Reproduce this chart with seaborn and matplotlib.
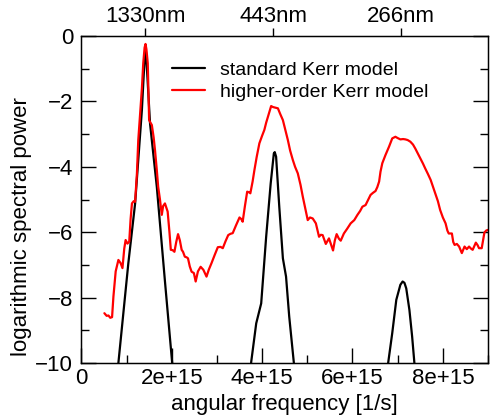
import numpy as np
import pandas as pd
import matplotlib
matplotlib.use("Agg")
import matplotlib.pyplot as plt
import seaborn as sns
from matplotlib.ticker import MultipleLocator

# angular frequency in units of 1e15 rad/s, log spectral power
omega_red = [0.51, 0.56, 0.60, 0.64, 0.68, 0.71, 0.76, 0.82, 0.87, 0.91, 0.95, 0.98,
             1.02, 1.06, 1.09, 1.12, 1.16, 1.19, 1.23, 1.26, 1.31, 1.34, 1.37, 1.40,
             1.42, 1.44, 1.47, 1.50, 1.53, 1.56, 1.60, 1.63, 1.67, 1.70, 1.74, 1.78,
             1.81, 1.85, 1.88, 1.91, 1.95, 1.98, 2.02, 2.06, 2.10, 2.14, 2.18, 2.22,
             2.25, 2.29, 2.33, 2.36, 2.40, 2.44, 2.49, 2.53, 2.58, 2.64, 2.70, 2.77,
             2.82, 2.88, 2.95, 3.02, 3.08, 3.13, 3.19, 3.25, 3.30, 3.35, 3.42, 3.50,
             3.54, 3.57, 3.62, 3.67, 3.71, 3.74, 3.79, 3.83, 3.88, 3.94, 4.00, 4.05,
             4.09, 4.13, 4.17, 4.20, 4.24, 4.27, 4.31, 4.35, 4.40, 4.46, 4.51, 4.57,
             4.62, 4.68, 4.73, 4.79, 4.85, 4.90, 4.96, 5.01, 5.06, 5.12, 5.19, 5.26,
             5.30, 5.34, 5.41, 5.48, 5.52, 5.57, 5.61, 5.65, 5.70, 5.74, 5.81, 5.88,
             5.96, 6.04, 6.11, 6.17, 6.22, 6.29, 6.35, 6.40, 6.45, 6.51, 6.55, 6.59,
             6.62, 6.66, 6.73, 6.81, 6.88, 6.95, 7.00, 7.06, 7.12, 7.17, 7.22, 7.28,
             7.34, 7.39, 7.45, 7.50, 7.56, 7.61, 7.67, 7.73, 7.78, 7.83, 7.89, 7.94,
             8.00, 8.06, 8.10, 8.13, 8.20, 8.23, 8.26, 8.31, 8.36, 8.42, 8.48, 8.53,
             8.58, 8.62, 8.66, 8.73, 8.77, 8.80, 8.86, 8.92, 8.96, 9.00]
power_red = [-8.48, -8.56, -8.55, -8.62, -8.60, -7.97, -7.20, -6.85, -6.95, -7.10, -6.50, -6.24,
             -6.35, -6.29, -5.60, -5.12, -5.05, -5.07, -4.20, -3.18, -2.21, -1.60, -0.83, -0.35,
             -0.24, -0.40, -0.83, -2.57, -2.65, -2.72, -3.10, -3.49, -4.10, -4.61, -5.00, -5.47,
             -5.20, -5.12, -5.25, -5.37, -6.00, -6.54, -6.55, -6.60, -6.30, -6.06, -6.25, -6.54,
             -6.60, -6.75, -6.77, -6.80, -7.05, -7.21, -7.25, -7.51, -7.20, -7.06, -7.15, -7.36,
             -7.15, -6.95, -6.70, -6.46, -6.45, -6.49, -6.28, -6.09, -6.05, -6.03, -5.80, -5.55,
             -5.60, -5.68, -5.20, -4.76, -4.78, -4.81, -4.45, -4.10, -3.70, -3.28, -3.05, -2.87,
             -2.65, -2.47, -2.28, -2.14, -2.17, -2.18, -2.19, -2.21, -2.38, -2.57, -2.85, -3.18,
             -3.50, -3.79, -4.00, -4.20, -4.55, -4.91, -5.30, -5.63, -5.55, -5.58, -5.73, -6.14,
             -6.08, -6.09, -6.36, -6.19, -6.35, -6.56, -6.25, -6.06, -6.20, -6.26, -6.04, -5.90,
             -5.73, -5.63, -5.47, -5.35, -5.22, -5.17, -5.00, -4.86, -4.80, -4.74, -4.62, -4.45,
             -4.15, -3.89, -3.64, -3.38, -3.13, -3.08, -3.12, -3.16, -3.15, -3.16, -3.18, -3.23,
             -3.32, -3.44, -3.60, -3.74, -3.90, -4.05, -4.22, -4.40, -4.60, -4.81, -5.05, -5.32,
             -5.55, -5.73, -5.95, -6.04, -6.04, -6.30, -6.39, -6.36, -6.44, -6.64, -6.44, -6.52,
             -6.44, -6.50, -6.54, -6.32, -6.40, -6.49, -6.49, -6.01, -5.95, -5.93]

omega_black = [0.70, 0.82, 1.04, 1.19, 1.34, 1.38, 1.42, 1.46, 1.52, 1.67, 1.85, 2.01, 2.10,
               3.65, 3.76, 3.87, 3.98, 4.09, 4.19, 4.26, 4.28, 4.31, 4.38, 4.46, 4.53, 4.60,
               4.70, 4.80, 6.70, 6.79, 6.88, 6.97, 7.06, 7.11, 7.15, 7.19, 7.26, 7.32, 7.37,
               7.45]
power_black = [-11.5, -10.0, -6.95, -5.12, -2.26, -1.20, -0.27, -1.20, -2.67, -4.61, -7.50, -10.0, -11.5,
               -11.5, -9.96, -8.79, -8.18, -6.14, -4.51, -3.59, -3.55, -3.69, -5.22, -6.80, -7.36, -8.58,
               -9.96, -11.5, -11.5, -10.0, -9.09, -8.07, -7.61, -7.51, -7.55, -7.72, -8.38, -9.19, -10.0,
               -11.5]

xtick_vals = [0, 2e15, 4e15, 6e15, 8e15]
xtick_labels = ["0", "2e+15", "4e+15", "6e+15", "8e+15"]
wavelengths_nm = [1330, 443, 266]
top_labels = ["1330nm", "443nm", "266nm"]

df_red = pd.DataFrame({"omega": np.array(omega_red) * 1e15, "power": power_red})
df_black = pd.DataFrame({"omega": np.array(omega_black) * 1e15, "power": power_black})

sns.set_style("ticks")
plt.rcParams["font.family"] = ["Liberation Sans", "DejaVu Sans"]
for key in ["text.color", "axes.labelcolor", "xtick.color", "ytick.color", "axes.edgecolor"]:
    plt.rcParams[key] = "black"

fig = plt.figure(figsize=(4.9, 4.2), dpi=100)
ax = fig.add_axes([0.166, 0.136, 0.830, 0.778])

sns.lineplot(data=df_black, x="omega", y="power", sort=False, estimator=None,
             color="black", lw=1.6, ax=ax, label="standard Kerr model")
sns.lineplot(data=df_red, x="omega", y="power", sort=False, estimator=None,
             color="#ff0000", lw=1.6, ax=ax, label="higher-order Kerr model")

ax.set_xlim(0, 9e15)
ax.set_ylim(-10, 0)
ax.set_xticks(xtick_vals)
ax.set_xticklabels(xtick_labels)
ax.xaxis.set_minor_locator(MultipleLocator(1e15))
ax.yaxis.set_major_locator(MultipleLocator(2))
ax.yaxis.set_minor_locator(MultipleLocator(1))

for s in ax.spines.values():
    s.set_visible(True)
    s.set_linewidth(1.0)
    s.set_color("black")

ax.tick_params(which="major", direction="in", length=11, width=1.0, labelsize=16,
               bottom=True, left=True, right=True, top=False, pad=4, colors="black")
ax.tick_params(which="minor", direction="in", length=5.5, width=1.0,
               bottom=True, left=True, right=True, top=False, colors="black")
ax.tick_params(axis="y", pad=6)

ax.set_xlabel("angular frequency [1/s]", fontsize=16, labelpad=3, color="black")
ax.set_ylabel("logarithmic spectral power", fontsize=16, color="black")
ax.yaxis.set_label_coords(-0.122, 0.417)

# top axis with wavelength marks
c = 299792458.0
top_pos = [2 * np.pi * c / (w * 1e-9) for w in wavelengths_nm]
ax_top = ax.twiny()
ax_top.set_xlim(ax.get_xlim())
ax_top.set_xticks(top_pos)
ax_top.set_xticklabels(top_labels)
ax_top.tick_params(axis="x", direction="out", length=5.5, width=1.0, labelsize=16,
                   pad=1, colors="black")
ax_top.xaxis.set_minor_locator(plt.NullLocator())

leg = ax.legend(loc="upper left", bbox_to_anchor=(0.222, 0.922), frameon=False,
                fontsize=14, handlelength=1.7, handletextpad=0.8, labelspacing=0.22,
                borderpad=0, borderaxespad=0)
for t in leg.get_texts():
    t.set_color("black")

fig.savefig("out.png", dpi=100)
